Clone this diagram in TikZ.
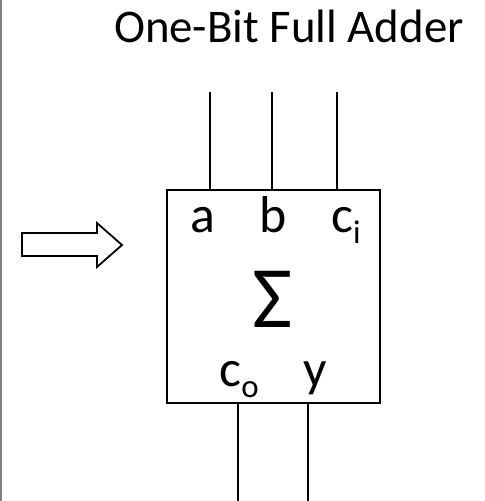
\documentclass[tikz,border=0pt]{standalone}
\usepackage{fontspec}
\setmainfont{Carlito}
\newcommand\lowsub[1]{\raisebox{-0.22em}{\fontsize{33}{33}\selectfont #1}}
\begin{document}
\begin{tikzpicture}[x=1bp,y=-1bp,line width=1.5bp,
    lbl/.style={anchor=base,inner sep=0pt,font=\fontsize{52}{53}\selectfont}]
    \useasboundingbox (0,0) rectangle (485,501);
    \draw[gray,line width=2bp](1,0)--(1,501);
    \node[anchor=base,inner sep=0pt,font=\fontsize{47}{49}\selectfont] (title) at (289,43) {One-Bit Full Adder};
    % the block arrow
    \draw[line width=1.8bp,line join=miter](22,233)--(97,233)--(97,223)--(122,245)--(97,267)--(97,256)--(22,256)--cycle;
    % the adder
    \node[draw,line width=2bp,minimum width=213bp,minimum height=213bp,inner sep=0pt] (fa) at (273.5,296.5) {};
    \node[anchor=base,inner sep=0pt,font=\fontsize{88}{90}\selectfont] (sum) at (273,327) {Σ};
    \node[lbl] (a) at (203,232) {a};
    \node[lbl] (b) at (273,232) {b};
    \node[lbl] (ci) at (346,232) {c\lowsub{i}};
    \node[lbl] (co) at (239,386) {c\lowsub{o}};
    \node[lbl] (y) at (315,386) {y};
    \coordinate (ina) at (210,92);
    \coordinate (inb) at (272,92);
    \coordinate (inc) at (337,92);
    \coordinate (outc) at (238,501);
    \coordinate (outy) at (308,501);
    \draw (ina)--(ina |- fa.north);
    \draw (inb)--(inb |- fa.north);
    \draw (inc)--(inc |- fa.north);
    \draw (outc |- fa.south)--(outc);
    \draw (outy |- fa.south)--(outy);
\end{tikzpicture}
\end{document}
